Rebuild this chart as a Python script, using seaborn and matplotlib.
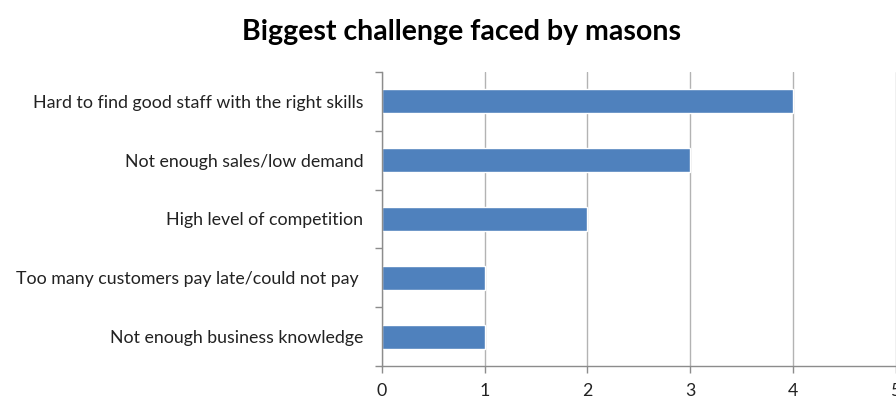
import matplotlib
matplotlib.use("Agg")
import matplotlib.pyplot as plt
import seaborn as sns
import pandas as pd

challenges = [
    "Hard to find good staff with the right skills",
    "Not enough sales/low demand",
    "High level of competition",
    "Too many customers pay late/could not pay ",
    "Not enough business knowledge",
]
counts = [4, 3, 2, 1, 1]
x_ticks = [0, 1, 2, 3, 4, 5]

df = pd.DataFrame({"challenge": challenges, "count": counts})

sns.set_theme(style="white")
plt.rcParams["font.family"] = ["Lato", "DejaVu Sans"]

W, H = 896, 397
fig = plt.figure(figsize=(W / 100, H / 100), dpi=100)
ax = fig.add_axes([382 / W, (H - 366) / H, (895.5 - 382) / W, (366 - 72) / H])

sns.barplot(data=df, x="count", y="challenge", orient="h", color="#4F81BD",
            saturation=1, width=0.41, ax=ax)

ax.set_xlim(0, 5)
ax.set_ylim(4.5, -0.5)
ax.set_xticks(x_ticks)
ax.set_xticklabels([str(t) for t in x_ticks], fontsize=12.8, color="#222222")
ax.set_yticks(range(len(challenges)))
ax.set_yticklabels(challenges, fontsize=12.8, color="#222222")
ax.set_xlabel("")
ax.set_ylabel("")

grid_color = "#B3B3B3"
ax.grid(axis="x", color=grid_color, linewidth=1)
ax.set_axisbelow(True)
for side in ["top", "right"]:
    ax.spines[side].set_visible(False)
for side in ["left", "bottom"]:
    ax.spines[side].set_color("#8C8C8C")
    ax.spines[side].set_linewidth(1)

# x ticks: short outward marks; y ticks sit between categories
ax.tick_params(axis="x", bottom=True, direction="out", length=5, width=1,
               color="#8C8C8C", pad=7)
ax.tick_params(axis="y", which="major", left=True, length=0, pad=13.5)
ax.set_yticks([i + 0.5 for i in range(-1, len(challenges))], minor=True)
ax.tick_params(axis="y", which="minor", left=True, direction="out", length=5,
               width=1, color="#8C8C8C")

fig.text(461 / W, 1 - 32 / H, "Biggest challenge faced by masons", ha="center", va="center",
         fontsize=20.5, fontweight="bold", color="black")

fig.savefig("out.png", dpi=100)
